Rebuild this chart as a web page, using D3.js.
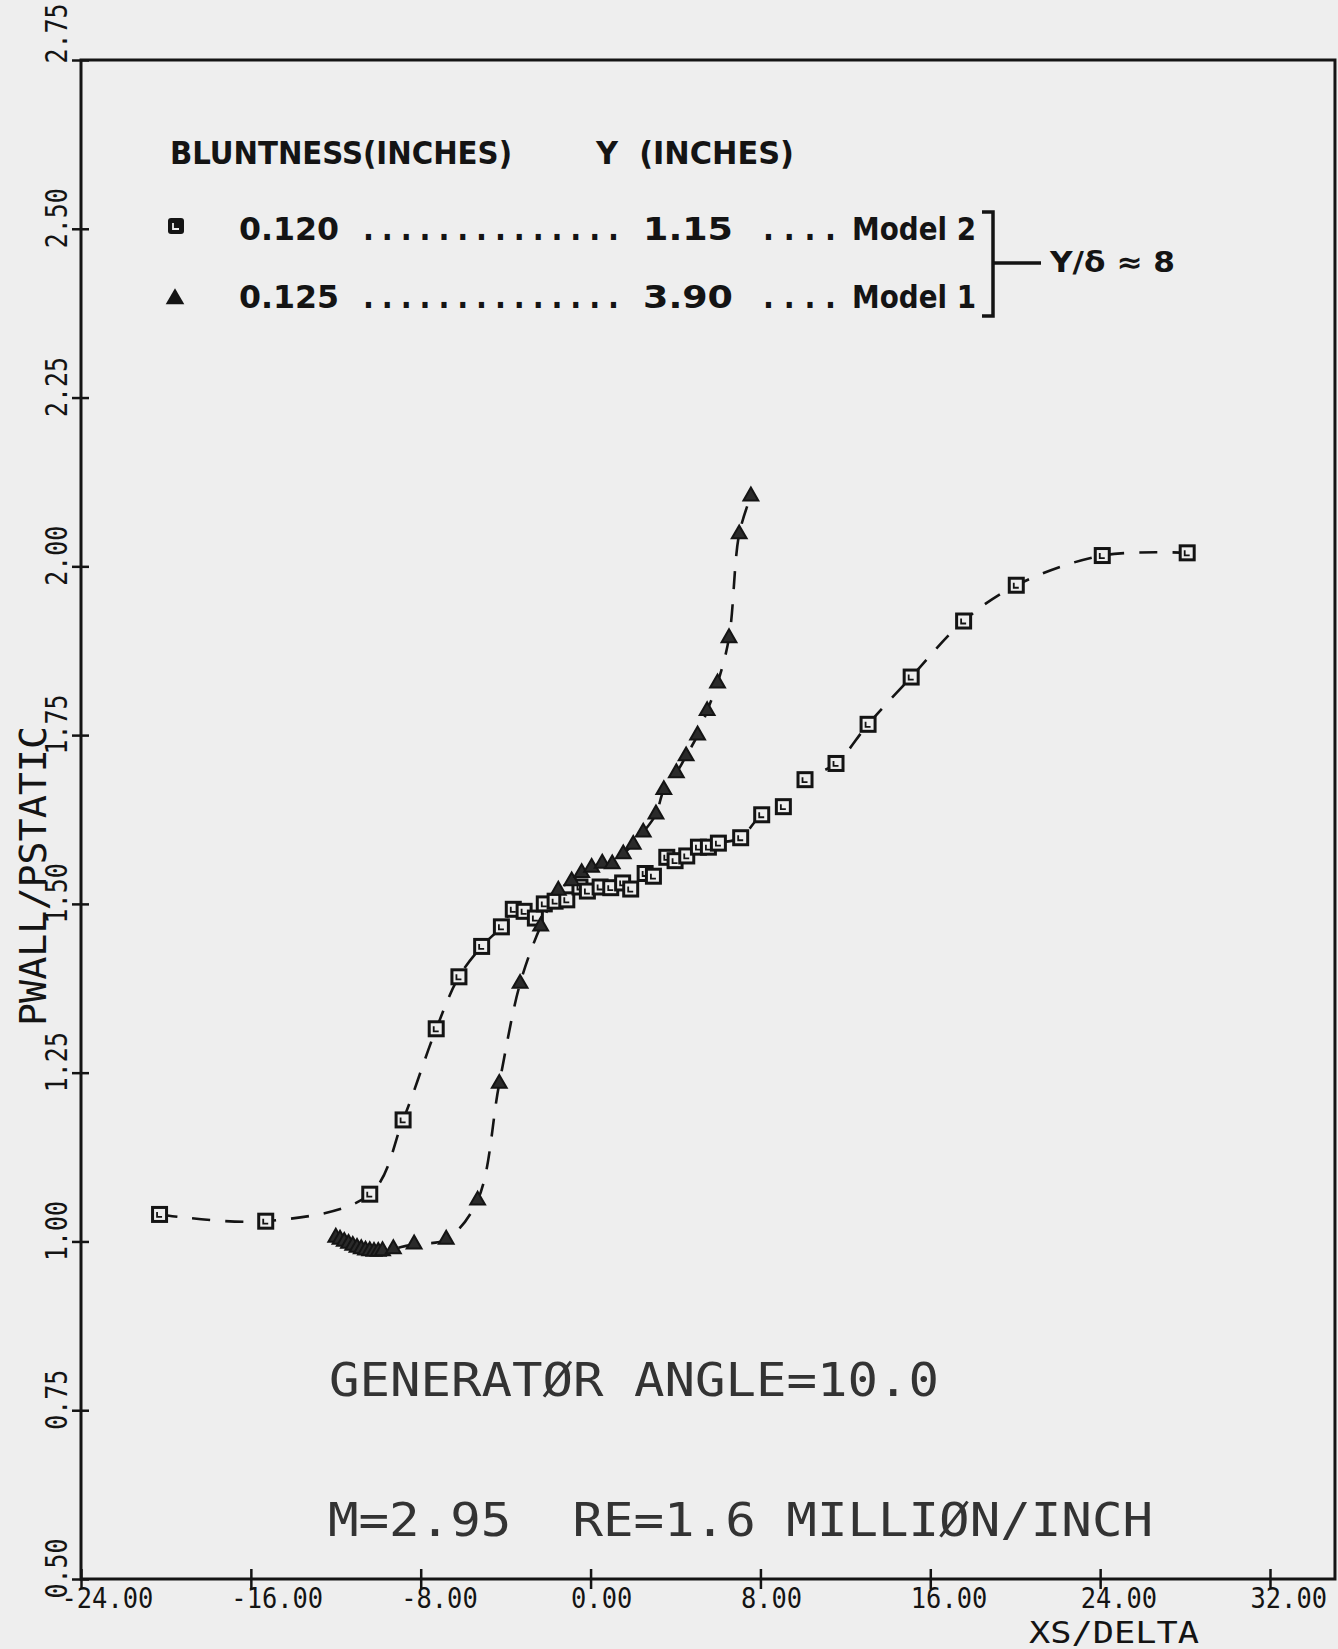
<!DOCTYPE html>
<html>
<head>
<meta charset="utf-8">
<script src="https://cdn.jsdelivr.net/npm/d3@7"></script>
<style>
  body { margin: 0; background: #eeeeee; }
  svg { display: block; }
</style>
</head>
<body>
<script>
var w = 1338;
var h = 1649;

// axis ticks
var xTicks = [-24, -16, -8, 0, 8, 16, 24, 32];
var yTicks = [0.50, 0.75, 1.00, 1.25, 1.50, 1.75, 2.00, 2.25, 2.50, 2.75];

// bluntness 0.120 in, Y = 1.15 in (Model 2) - squares
var sqX = [-20.3, -15.3, -10.4, -8.83, -7.27, -6.2, -5.13, -4.2, -3.64, -3.13, -2.6, -2.18, -1.67, -1.12,
  -0.5, -0.15, 0.45, 0.95, 1.51, 1.89, 2.57, 2.96, 3.59, 3.98, 4.53, 5.08, 5.55, 6.02, 7.07, 8.06, 9.08,
  10.1, 11.56, 13.07, 15.1, 17.57, 20.05, 24.1, 28.1];
var sqY = [1.04, 1.03, 1.07, 1.18, 1.315, 1.392, 1.437, 1.466, 1.492, 1.489, 1.479, 1.50, 1.504, 1.506,
  1.525, 1.519, 1.525, 1.524, 1.531, 1.522, 1.545, 1.541, 1.569, 1.564, 1.571, 1.584, 1.584, 1.59, 1.598, 1.632, 1.644,
  1.684, 1.708, 1.766, 1.836, 1.919, 1.972, 2.016, 2.02];

// bluntness 0.125 in, Y = 3.90 in (Model 1) - triangles
var triX = [-12.0, -11.8, -11.6, -11.4, -11.2, -11.0, -10.8, -10.6, -10.4, -10.2, -10.0, -9.8, -9.29, -8.31,
  -6.8, -5.32, -4.3, -3.32, -2.35, -1.52, -0.89, -0.42, 0.05, 0.55, 1.02, 1.54, 2.01, 2.48, 3.08, 3.45,
  4.04, 4.5, 5.04, 5.49, 5.98, 6.52, 7.0, 7.55];
var triY = [1.006, 1.003, 1.0, 0.997, 0.994, 0.991, 0.989, 0.987, 0.986, 0.985, 0.985, 0.986, 0.989, 0.996,
  1.003, 1.061, 1.234, 1.382, 1.467, 1.52, 1.534, 1.546, 1.554, 1.56, 1.559, 1.574, 1.588, 1.606, 1.633, 1.669,
  1.694, 1.719, 1.75, 1.786, 1.827, 1.894, 2.048, 2.104];

// legend
var legBluntness = ["0.120", "0.125"];
var legY = ["1.15", "3.90"];
var legModel = ["Model 2", "Model 1"];

var paper = "#eeeeee";
var ink = "#141414";
var mono = "'DejaVu Sans Mono', monospace";
var type = "'DejaVu Sans Condensed', 'DejaVu Sans', sans-serif";

var x = d3.scaleLinear().domain([-24, 32]).range([81, 1270]);
var y = d3.scaleLinear().domain([0.5, 2.75]).range([1579, 60]);
var xMax = 35.06; // right edge of frame

var svg = d3.select("body")
  .append("svg")
  .attr("width", w)
  .attr("height", h);

svg.append("rect").attr("width", w).attr("height", h).attr("fill", paper);

// frame
svg.append("rect")
  .attr("x", x(-24))
  .attr("y", y(2.75))
  .attr("width", x(xMax) - x(-24))
  .attr("height", y(0.5) - y(2.75))
  .attr("fill", "none")
  .attr("stroke", ink)
  .attr("stroke-width", 3);

// x axis
var xAxis = svg.append("g")
  .attr("transform", "translate(0," + y(0.5) + ")")
  .call(d3.axisBottom(x).tickValues(xTicks).tickSize(10).tickSizeOuter(0)
    .tickFormat(function (d) { return d.toFixed(2); }));
xAxis.select(".domain").remove();
xAxis.selectAll("line").attr("y1", -10).attr("stroke", ink).attr("stroke-width", 2.5);
xAxis.selectAll("text")
  .attr("text-anchor", "start")
  .attr("x", -20)
  .attr("y", 28.5)
  .attr("dy", null)
  .attr("textLength", function (d) { return d.toFixed(2).length * 15.3; })
  .attr("lengthAdjust", "spacingAndGlyphs")
  .attr("fill", ink)
  .style("font-family", mono)
  .style("font-size", "29px");

// y axis
var yAxis = svg.append("g")
  .attr("transform", "translate(" + x(-24) + ",0)")
  .call(d3.axisLeft(y).tickValues(yTicks).tickSize(9).tickSizeOuter(0)
    .tickFormat(function (d) { return d.toFixed(2); }));
yAxis.select(".domain").remove();
yAxis.selectAll("line").attr("x1", 8).attr("stroke", ink).attr("stroke-width", 2.5);
yAxis.selectAll("text")
  .attr("text-anchor", "start")
  .attr("x", null)
  .attr("dy", null)
  .attr("transform", function (d) {
    var off = d === 2.75 ? 3 : 19;
    return "translate(-14," + off + ") rotate(-90) scale(0.805,1)";
  })
  .attr("fill", ink)
  .style("font-family", mono)
  .style("font-size", "31px");

// axis titles
svg.append("text")
  .attr("transform", "translate(46,1026) rotate(-90)")
  .attr("textLength", 300)
  .attr("lengthAdjust", "spacingAndGlyphs")
  .attr("fill", ink)
  .style("font-family", mono)
  .style("font-size", "38px")
  .text("PWALL/PSTATIC");

svg.append("text")
  .attr("x", 1029)
  .attr("y", 1642.5)
  .attr("textLength", 170)
  .attr("lengthAdjust", "spacingAndGlyphs")
  .attr("fill", ink)
  .style("font-family", mono)
  .style("font-size", "30px")
  .text("XS/DELTA");

// annotations in the plot
svg.append("text")
  .attr("x", 329)
  .attr("y", 1396)
  .attr("textLength", 610)
  .attr("lengthAdjust", "spacingAndGlyphs")
  .attr("fill", "#333")
  .style("font-family", mono)
  .style("font-size", "46px")
  .text("GENERATØR ANGLE=10.0");

svg.append("text")
  .attr("x", 328)
  .attr("y", 1536)
  .attr("textLength", 825)
  .attr("lengthAdjust", "spacingAndGlyphs")
  .attr("fill", "#333")
  .style("white-space", "pre")
  .style("font-family", mono)
  .style("font-size", "46px")
  .text("M=2.95  RE=1.6 MILLIØN/INCH");

// series
var sqData = sqX.map(function (d, i) { return [d, sqY[i]]; });
var triData = triX.map(function (d, i) { return [d, triY[i]]; });

var line = d3.line()
  .x(function (d) { return x(d[0]); })
  .y(function (d) { return y(d[1]); })
  .curve(d3.curveCatmullRom);

[sqData, triData].forEach(function (data) {
  svg.append("path")
    .attr("d", line(data))
    .attr("fill", "none")
    .attr("stroke", ink)
    .attr("stroke-width", 2.6)
    .attr("stroke-dasharray", "18,15");
});

var sq = svg.selectAll("g.sq")
  .data(sqData)
  .enter()
  .append("g")
  .attr("class", "sq")
  .attr("transform", function (d) { return "translate(" + x(d[0]) + "," + y(d[1]) + ")"; });
sq.append("rect")
  .attr("x", -7).attr("y", -7).attr("width", 14).attr("height", 14)
  .attr("fill", paper)
  .attr("stroke", ink)
  .attr("stroke-width", 3);
sq.append("path")
  .attr("d", "M-2.5,-2.5V2.5H2.5")
  .attr("fill", "none")
  .attr("stroke", ink)
  .attr("stroke-width", 1.8);

var tri = d3.symbol().type(d3.symbolTriangle).size(95);
svg.selectAll("path.tri")
  .data(triData)
  .enter()
  .append("path")
  .attr("class", "tri")
  .attr("d", tri)
  .attr("transform", function (d) { return "translate(" + x(d[0]) + "," + y(d[1]) + ")"; })
  .attr("fill", "#2a2a2a")
  .attr("stroke", ink)
  .attr("stroke-width", 2);

// legend
var lg = svg.append("g")
  .attr("fill", ink)
  .style("font-family", type)
  .style("font-weight", "bold")
  .style("font-size", "32px");

lg.append("text").attr("x", 170).attr("y", 164)
  .attr("textLength", 342).attr("lengthAdjust", "spacingAndGlyphs")
  .text("BLUNTNESS(INCHES)");
lg.append("text").attr("x", 596).attr("y", 164)
  .attr("textLength", 198).attr("lengthAdjust", "spacingAndGlyphs")
  .text("Y  (INCHES)").style("white-space", "pre");

var rowY = [240, 308];
legBluntness.forEach(function (b, i) {
  lg.append("text").attr("x", 239).attr("y", rowY[i])
    .attr("textLength", 100).attr("lengthAdjust", "spacingAndGlyphs").text(b);
  lg.append("text").attr("x", 363).attr("y", rowY[i])
    .attr("textLength", 256).attr("lengthAdjust", "spacing").text("..............");
  lg.append("text").attr("x", 643).attr("y", rowY[i])
    .attr("textLength", 90).attr("lengthAdjust", "spacingAndGlyphs").text(legY[i]);
  lg.append("text").attr("x", 763).attr("y", rowY[i])
    .attr("textLength", 73).attr("lengthAdjust", "spacing").text("....");
  lg.append("text").attr("x", 852).attr("y", rowY[i])
    .attr("textLength", 124).attr("lengthAdjust", "spacingAndGlyphs").text(legModel[i]);
});

// legend markers
lg.append("rect")
  .attr("x", 168).attr("y", 218).attr("width", 16).attr("height", 16)
  .attr("rx", 3)
  .attr("fill", ink);
lg.append("path")
  .attr("d", "M173,223V229H179")
  .attr("fill", "none").attr("stroke", paper).attr("stroke-width", 1.8);
lg.append("path")
  .attr("d", d3.symbol().type(d3.symbolTriangle).size(150))
  .attr("transform", "translate(175,299)")
  .attr("fill", ink);

// bracket and Y/delta
lg.append("path")
  .attr("d", "M982,212H993V316H982M993,263H1041")
  .attr("fill", "none")
  .attr("stroke", ink)
  .attr("stroke-width", 3.5);
lg.append("text").attr("x", 1050).attr("y", 272)
  .style("font-size", "28px")
  .attr("textLength", 125).attr("lengthAdjust", "spacingAndGlyphs")
  .style("white-space", "pre")
  .text("Y/δ ≈ 8");
</script>
</body>
</html>
